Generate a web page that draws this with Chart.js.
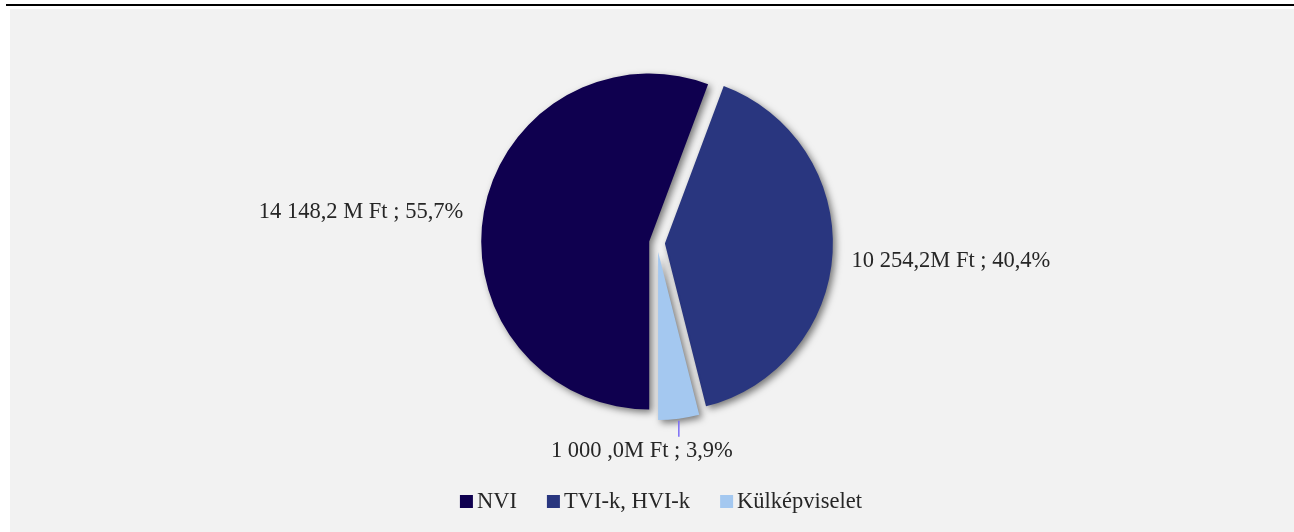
<!DOCTYPE html>
<html><head><meta charset="utf-8">
<script src="https://cdn.jsdelivr.net/npm/chart.js@4/dist/chart.umd.min.js"></script>
<style>html,body{margin:0;padding:0;background:#fff;overflow:hidden}canvas{display:block}</style>
</head><body>
<canvas id="c" width="1294" height="532"></canvas>
<script>
const categories = ['NVI', 'TVI-k, HVI-k', 'Külképviselet'];
const values = [14148.2, 10254.2, 1000.0];
const valueLabels = ['14 148,2 M Ft ; 55,7%', '10 254,2M Ft ; 40,4%', '1 000 ,0M Ft ; 3,9%'];
const colors = ['#0f004f', '#29367f', '#a4c8f0'];

const FONT = '22.5px "Liberation Serif", "Times New Roman", serif';
const TEXT = '#262626';
const explode = [7.9, 7.9, 9];

const framePlugin = {
  id: 'frame',
  beforeDraw(chart) {
    const ctx = chart.ctx;
    ctx.save();
    ctx.fillStyle = '#ffffff'; ctx.fillRect(0, 0, chart.width, chart.height);
    ctx.fillStyle = '#f2f2f2'; ctx.fillRect(10, 9, chart.width - 10, chart.height - 9);
    ctx.fillStyle = '#000000'; ctx.fillRect(6, 4, chart.width - 6, 2);
    ctx.restore();
  }
};

const explodePlugin = {
  id: 'explode',
  afterDatasetsUpdate(chart) {
    chart.getDatasetMeta(0).data.forEach((arc, i) => {
      const mid = (arc.startAngle + arc.endAngle) / 2;
      arc.x += Math.cos(mid) * explode[i];
      arc.y += Math.sin(mid) * explode[i];
    });
  },
  beforeDatasetsDraw(chart) {
    const ctx = chart.ctx;
    ctx.save();
    ctx.shadowColor = 'rgba(0,0,0,0.5)';
    ctx.shadowBlur = 7;
    ctx.shadowOffsetX = 3;
    ctx.shadowOffsetY = 3;
  },
  afterDatasetsDraw(chart) {
    chart.ctx.restore();
  }
};

const labelPlugin = {
  id: 'labels',
  afterDraw(chart) {
    const ctx = chart.ctx;
    const meta = chart.getDatasetMeta(0);
    ctx.save();
    ctx.font = FONT;
    ctx.fillStyle = TEXT;
    ctx.textBaseline = 'alphabetic';
    meta.data.forEach((arc, i) => {
      const mid = (arc.startAngle + arc.endAngle) / 2;
      const dx = Math.cos(mid), dy = Math.sin(mid);
      const r = arc.outerRadius;
      if (i === 0) {
        ctx.textAlign = 'right';
        ctx.fillText(valueLabels[i], arc.x + dx * (r + 21), arc.y + dy * (r + 21) + 10);
      } else if (i === 1) {
        ctx.textAlign = 'left';
        ctx.fillText(valueLabels[i], arc.x + dx * (r + 19), arc.y + dy * (r + 19) + 13);
      } else {
        const px = arc.x + dx * r, py = arc.y + dy * r;
        ctx.strokeStyle = '#7b6cf6';
        ctx.lineWidth = 1.5;
        ctx.beginPath();
        ctx.moveTo(px, py + 2);
        ctx.lineTo(px, py + 18);
        ctx.stroke();
        ctx.textAlign = 'center';
        ctx.fillText(valueLabels[i], px - 37, py + 38.5);
      }
    });
    // legend
    const box = 13, gap = 4, itemGap = 30;
    const widths = categories.map(c => ctx.measureText(c).width);
    let total = widths.reduce((s, w) => s + box + gap + w, 0) + itemGap * (categories.length - 1);
    let x = 661 - total / 2;
    ctx.textAlign = 'left';
    categories.forEach((c, i) => {
      ctx.fillStyle = colors[i];
      ctx.fillRect(x, 495, box, box);
      ctx.fillStyle = TEXT;
      ctx.fillText(c, x + box + gap, 508);
      x += box + gap + widths[i] + itemGap;
    });
    ctx.restore();
  }
};

new Chart(document.getElementById('c'), {
  type: 'pie',
  data: {
    labels: categories,
    datasets: [{
      data: values,
      backgroundColor: colors,
      borderWidth: 0,
      radius: 168
    }]
  },
  options: {
    responsive: false,
    animation: false,
    events: [],
    rotation: 180,
    layout: { padding: { left: 20, right: 0, top: 0, bottom: 46 } },
    plugins: { legend: { display: false }, tooltip: { enabled: false } }
  },
  plugins: [framePlugin, explodePlugin, labelPlugin]
});
</script>
</body></html>
